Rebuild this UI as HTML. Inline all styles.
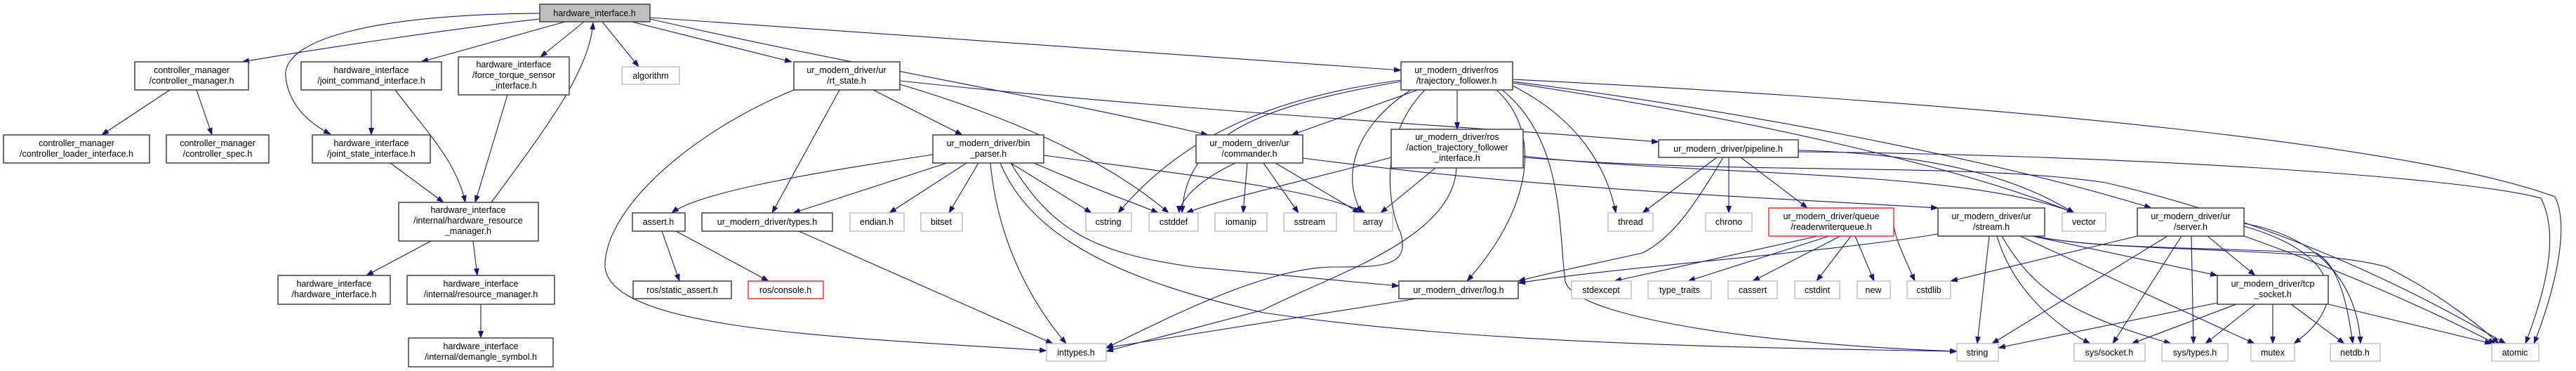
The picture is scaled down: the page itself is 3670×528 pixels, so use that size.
<!DOCTYPE html>
<html><head><meta charset="utf-8"><style>
html,body{margin:0;padding:0;background:#fff;width:3670px;height:528px;overflow:hidden}
svg text{font-family:"Liberation Sans",sans-serif;font-size:12.5px;fill:#000;text-anchor:middle}
.n{fill:#fff;stroke:#404040;stroke-width:1.5}
.g{fill:#fff;stroke:#c0c0c0;stroke-width:1.5}
.r{fill:#fff;stroke:#ff3030;stroke-width:1.5}
.e{fill:none;stroke:#191970;stroke-width:1.1;marker-end:url(#a)}
</style></head><body>
<svg width="3670" height="528" viewBox="0 0 3670 528" xmlns="http://www.w3.org/2000/svg">
<defs><marker id="a" markerUnits="userSpaceOnUse" markerWidth="11" markerHeight="8" refX="10" refY="4" orient="auto"><path d="M0,0 L11,4 L0,8 z" fill="#191970"/></marker></defs>
<g>
<path class="e" d="M769,27 C650,40 450,70 345,88"/>
<path class="e" d="M769,19 C560,20 400,50 407,110 C412,150 440,175 471,191"/>
<path class="e" d="M805,31 L600,88"/>
<path class="e" d="M832,31 L770,81"/>
<path class="e" d="M858,31 L910,95"/>
<path class="e" d="M700,288 C780,180 840,100 845,32"/>
<path class="e" d="M900,31 L1128,88"/>
<path class="e" d="M926,27 C1200,90 1500,140 1721,192"/>
<path class="e" d="M926,25 L1996,100"/>
<path class="e" d="M242,128 L145,192"/>
<path class="e" d="M280,128 L302,192"/>
<path class="e" d="M529,128 L529,192"/>
<path class="e" d="M563,128 C610,190 650,230 663,288"/>
<path class="e" d="M556,232 L632,288"/>
<path class="e" d="M723,135 L677,288"/>
<path class="e" d="M614,343 L522,392"/>
<path class="e" d="M674,343 L680,392"/>
<path class="e" d="M685,433 L685,481"/>
<path class="e" d="M1196,128 L1100,303"/>
<path class="e" d="M1244,128 L1371,192"/>
<path class="e" d="M1282,120 C1450,170 1580,230 1665,303"/>
<path class="e" d="M1131,128 C980,190 860,300 862,380 C870,470 1200,480 1491,499"/>
<path class="e" d="M1282,115 C1700,160 2100,180 2363,202"/>
<path class="e" d="M1329,220 C1200,240 1000,270 957,303"/>
<path class="e" d="M1349,232 L1130,303"/>
<path class="e" d="M1377,232 L1267,303"/>
<path class="e" d="M1394,232 L1352,303"/>
<path class="e" d="M1440,232 L1555,303"/>
<path class="e" d="M1473,232 C1560,270 1620,290 1650,303"/>
<path class="e" d="M1411,232 C1420,330 1460,420 1519,489"/>
<path class="e" d="M1440,232 C1500,330 1560,360 1700,380 L1993,407"/>
<path class="e" d="M1425,232 C1470,340 1600,400 1800,445 C2100,490 2500,495 2788,500"/>
<path class="e" d="M1487,221 C1700,250 1880,270 1945,303"/>
<path class="e" d="M1856,225 C2200,270 2500,280 2761,296"/>
<path class="e" d="M1760,232 C1700,260 1680,290 1680,303"/>
<path class="e" d="M1777,232 L1771,303"/>
<path class="e" d="M1800,232 L1850,303"/>
<path class="e" d="M1817,232 L1937,303"/>
<path class="e" d="M2020,128 L1840,192"/>
<path class="e" d="M1996,114 C1800,140 1680,200 1593,303"/>
<path class="e" d="M1996,116 C1800,150 1690,190 1684,303"/>
<path class="e" d="M2010,128 C1930,180 1910,250 1940,303"/>
<path class="e" d="M2030,128 C1960,200 1980,300 1995,330 C2010,380 1970,380 1900,380 C1800,380 1650,460 1576,495"/>
<path class="e" d="M2076,128 L2076,184"/>
<path class="e" d="M2132,128 C2200,190 2180,300 2090,400"/>
<path class="e" d="M2140,128 C2230,200 2220,330 2230,400 C2240,450 2500,490 2788,500"/>
<path class="e" d="M2155,122 C2250,170 2290,240 2302,303"/>
<path class="e" d="M2155,118 C2500,170 2800,240 2955,303"/>
<path class="e" d="M2155,116 C2500,160 2850,230 3065,296"/>
<path class="e" d="M2155,113 C2900,150 3450,210 3640,280 C3665,330 3630,440 3610,489"/>
<path class="e" d="M1982,224 C1850,260 1750,280 1690,303"/>
<path class="e" d="M2045,239 L1967,303"/>
<path class="e" d="M2075,239 C2070,340 1900,390 1800,441 L1576,500"/>
<path class="e" d="M2170,222 C2400,250 2800,240 2955,303"/>
<path class="e" d="M2170,224 C2500,250 2800,230 3000,260 C3300,330 3500,450 3570,489"/>
<path class="e" d="M2446,224 L2340,303"/>
<path class="e" d="M2463,224 L2463,303"/>
<path class="e" d="M2480,224 L2575,296"/>
<path class="e" d="M2455,224 C2410,300 2380,340 2340,360 C2250,380 2200,390 2163,400"/>
<path class="e" d="M2562,214 C2800,220 2900,270 2955,303"/>
<path class="e" d="M2562,216 C3000,220 3500,250 3620,282 C3650,340 3620,430 3598,489"/>
<path class="e" d="M2590,336 L2300,400"/>
<path class="e" d="M2606,336 L2405,400"/>
<path class="e" d="M2622,336 L2497,400"/>
<path class="e" d="M2637,336 L2588,400"/>
<path class="e" d="M2643,336 L2670,400"/>
<path class="e" d="M2698,320 C2700,340 2715,370 2728,400"/>
<path class="e" d="M2761,333 C2600,360 2300,380 2163,403"/>
<path class="e" d="M2834,336 L2817,489"/>
<path class="e" d="M2845,336 C2870,420 2940,470 2978,489"/>
<path class="e" d="M2852,336 C2900,420 2960,450 3093,489"/>
<path class="e" d="M2878,336 L3212,489"/>
<path class="e" d="M2895,336 L3159,392"/>
<path class="e" d="M2895,336 C3000,355 3100,350 3300,360 C3335,380 3345,440 3352,489"/>
<path class="e" d="M2900,336 C3000,360 3300,350 3400,380 C3480,420 3540,470 3560,489"/>
<path class="e" d="M3045,336 L2779,400"/>
<path class="e" d="M3088,336 L2838,489"/>
<path class="e" d="M3108,336 L3010,489"/>
<path class="e" d="M3122,336 L3125,489"/>
<path class="e" d="M3145,336 L3213,392"/>
<path class="e" d="M3197,318 C3320,340 3360,420 3363,489"/>
<path class="e" d="M3197,322 C3330,360 3350,430 3268,489"/>
<path class="e" d="M3197,336 C3350,390 3480,450 3555,489"/>
<path class="e" d="M3159,431 L2847,495"/>
<path class="e" d="M3186,433 L3037,489"/>
<path class="e" d="M3213,433 L3142,489"/>
<path class="e" d="M3238,433 L3238,489"/>
<path class="e" d="M3264,433 L3340,489"/>
<path class="e" d="M3317,433 L3550,489"/>
<path class="e" d="M1138,329 L1500,489"/>
<path class="e" d="M943,329 L968,400"/>
<path class="e" d="M963,329 L1095,400"/>
<path class="e" d="M2018,425 L1576,495"/>
</g>
<g>
<rect x="769" y="6" width="157" height="25" fill="#bfbfbf" stroke="#404040" stroke-width="1.5"/><text x="847" y="23">hardware_interface.h</text>
<rect class="n" x="192" y="88" width="162" height="40"/><text x="273" y="104">controller_manager</text><text x="273" y="119">/controller_manager.h</text>
<rect class="n" x="429" y="88" width="200" height="40"/><text x="529" y="104">hardware_interface</text><text x="529" y="119">/joint_command_interface.h</text>
<rect class="n" x="653" y="81" width="158" height="54"/><text x="732" y="96">hardware_interface</text><text x="732" y="111">/force_torque_sensor</text><text x="732" y="126">_interface.h</text>
<rect class="g" x="886" y="95" width="82" height="25"/><text x="927" y="112">algorithm</text>
<rect class="n" x="5" y="192" width="208" height="40"/><text x="109" y="208">controller_manager</text><text x="109" y="223">/controller_loader_interface.h</text>
<rect class="n" x="237" y="192" width="146" height="40"/><text x="310" y="208">controller_manager</text><text x="310" y="223">/controller_spec.h</text>
<rect class="n" x="445" y="192" width="168" height="40"/><text x="529" y="208">hardware_interface</text><text x="529" y="223">/joint_state_interface.h</text>
<rect class="n" x="568" y="288" width="199" height="55"/><text x="667" y="303">hardware_interface</text><text x="667" y="318">/internal/hardware_resource</text><text x="667" y="333">_manager.h</text>
<rect class="n" x="396" y="392" width="160" height="41"/><text x="476" y="408">hardware_interface</text><text x="476" y="423">/hardware_interface.h</text>
<rect class="n" x="580" y="392" width="210" height="41"/><text x="685" y="408">hardware_interface</text><text x="685" y="423">/internal/resource_manager.h</text>
<rect class="n" x="582" y="481" width="206" height="41"/><text x="685" y="497">hardware_interface</text><text x="685" y="512">/internal/demangle_symbol.h</text>
<rect class="n" x="1131" y="88" width="151" height="40"/><text x="1206" y="104">ur_modern_driver/ur</text><text x="1206" y="119">/rt_state.h</text>
<rect class="n" x="1329" y="192" width="158" height="40"/><text x="1408" y="208">ur_modern_driver/bin</text><text x="1408" y="223">_parser.h</text>
<rect class="n" x="1704" y="192" width="152" height="40"/><text x="1780" y="208">ur_modern_driver/ur</text><text x="1780" y="223">/commander.h</text>
<rect class="n" x="901" y="303" width="75" height="26"/><text x="938" y="320">assert.h</text>
<rect class="n" x="1000" y="303" width="186" height="26"/><text x="1093" y="320">ur_modern_driver/types.h</text>
<rect class="g" x="1211" y="303" width="77" height="26"/><text x="1249" y="320">endian.h</text>
<rect class="g" x="1312" y="303" width="59" height="26"/><text x="1341" y="320">bitset</text>
<rect class="g" x="1547" y="303" width="65" height="26"/><text x="1579" y="320">cstring</text>
<rect class="g" x="1637" y="303" width="70" height="26"/><text x="1672" y="320">cstddef</text>
<rect class="g" x="1731" y="303" width="74" height="26"/><text x="1768" y="320">iomanip</text>
<rect class="g" x="1829" y="303" width="75" height="26"/><text x="1866" y="320">sstream</text>
<rect class="g" x="1929" y="303" width="55" height="26"/><text x="1956" y="320">array</text>
<rect class="n" x="902" y="400" width="140" height="25"/><text x="972" y="417">ros/static_assert.h</text>
<rect class="r" x="1066" y="400" width="107" height="25"/><text x="1119" y="417">ros/console.h</text>
<rect class="g" x="1491" y="489" width="85" height="25"/><text x="1533" y="506">inttypes.h</text>
<rect class="n" x="1996" y="88" width="159" height="40"/><text x="2075" y="104">ur_modern_driver/ros</text><text x="2075" y="119">/trajectory_follower.h</text>
<rect class="n" x="1982" y="184" width="188" height="55"/><text x="2076" y="199">ur_modern_driver/ros</text><text x="2076" y="214">/action_trajectory_follower</text><text x="2076" y="229">_interface.h</text>
<rect class="n" x="2363" y="199" width="199" height="25"/><text x="2462" y="216">ur_modern_driver/pipeline.h</text>
<rect class="g" x="2291" y="303" width="64" height="26"/><text x="2323" y="320">thread</text>
<rect class="g" x="2430" y="303" width="66" height="26"/><text x="2463" y="320">chrono</text>
<rect class="r" x="2520" y="296" width="178" height="40"/><text x="2609" y="312">ur_modern_driver/queue</text><text x="2609" y="327">/readerwriterqueue.h</text>
<rect class="n" x="1993" y="400" width="170" height="25"/><text x="2078" y="417">ur_modern_driver/log.h</text>
<rect class="g" x="2239" y="400" width="85" height="25"/><text x="2281" y="417">stdexcept</text>
<rect class="g" x="2348" y="400" width="90" height="25"/><text x="2393" y="417">type_traits</text>
<rect class="g" x="2462" y="400" width="70" height="25"/><text x="2497" y="417">cassert</text>
<rect class="g" x="2557" y="400" width="64" height="25"/><text x="2589" y="417">cstdint</text>
<rect class="g" x="2646" y="400" width="47" height="25"/><text x="2669" y="417">new</text>
<rect class="n" x="2761" y="296" width="152" height="40"/><text x="2837" y="312">ur_modern_driver/ur</text><text x="2837" y="327">/stream.h</text>
<rect class="g" x="2938" y="303" width="62" height="26"/><text x="2969" y="320">vector</text>
<rect class="n" x="3045" y="296" width="152" height="40"/><text x="3121" y="312">ur_modern_driver/ur</text><text x="3121" y="327">/server.h</text>
<rect class="g" x="2717" y="400" width="62" height="25"/><text x="2748" y="417">cstdlib</text>
<rect class="n" x="3159" y="392" width="158" height="41"/><text x="3238" y="408">ur_modern_driver/tcp</text><text x="3238" y="423">_socket.h</text>
<rect class="g" x="2788" y="489" width="59" height="25"/><text x="2817" y="506">string</text>
<rect class="g" x="2955" y="489" width="101" height="25"/><text x="3005" y="506">sys/socket.h</text>
<rect class="g" x="3080" y="489" width="94" height="25"/><text x="3127" y="506">sys/types.h</text>
<rect class="g" x="3207" y="489" width="62" height="25"/><text x="3238" y="506">mutex</text>
<rect class="g" x="3320" y="489" width="71" height="25"/><text x="3355" y="506">netdb.h</text>
<rect class="g" x="3550" y="489" width="67" height="25"/><text x="3583" y="506">atomic</text>
</g>
</svg>
</body></html>
